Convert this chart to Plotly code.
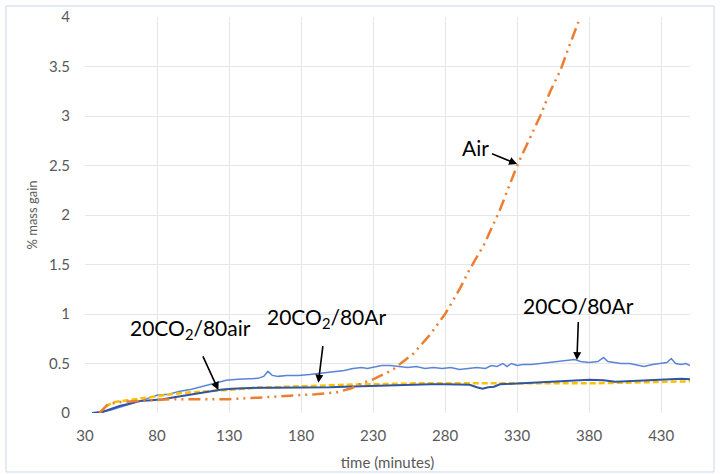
import plotly.graph_objects as go

# ---- data ----
t_co_ar = [35, 42, 48, 55, 62, 68, 74, 80, 88, 96, 104, 112, 120, 128, 136, 144, 150, 154, 157, 160,
           164, 170, 178, 186, 192, 198, 204, 210, 216, 222, 226, 230, 236, 242, 248, 254, 260, 266,
           272, 278, 284, 290, 296, 302, 308, 312, 316, 320, 323, 326, 330, 334, 340, 346, 370, 374,
           380, 386, 390, 393, 397, 402, 408, 414, 418, 424, 430, 434, 437, 440, 444, 447, 450]
v_co_ar = [0, 0.01, 0.03, 0.06, 0.09, 0.12, 0.15, 0.18, 0.19, 0.22, 0.24, 0.27, 0.30, 0.33, 0.34,
           0.35, 0.35, 0.37, 0.42, 0.38, 0.37, 0.38, 0.38, 0.39, 0.40, 0.41, 0.42, 0.43, 0.45, 0.46,
           0.45, 0.46, 0.48, 0.48, 0.47, 0.46, 0.47, 0.45, 0.46, 0.45, 0.46, 0.44, 0.45, 0.46, 0.45,
           0.48, 0.47, 0.50, 0.47, 0.50, 0.48, 0.49, 0.49, 0.50, 0.54, 0.52, 0.51, 0.52, 0.56, 0.52,
           0.51, 0.50, 0.50, 0.48, 0.47, 0.49, 0.50, 0.51, 0.55, 0.50, 0.49, 0.50, 0.48]

t_co2_ar = [35, 42, 48, 54, 60, 68, 76, 84, 92, 100, 108, 116, 124, 132, 140, 150, 160, 170, 180, 190,
            200, 210, 220, 230, 240, 250, 260, 270, 280, 290, 297, 302, 306, 310, 314, 318, 324, 330,
            340, 350, 360, 370, 380, 390, 398, 406, 414, 422, 430, 438, 444, 450]
v_co2_ar = [0, 0.01, 0.04, 0.07, 0.09, 0.12, 0.13, 0.14, 0.16, 0.18, 0.20, 0.22, 0.235, 0.245, 0.25,
            0.255, 0.255, 0.255, 0.255, 0.26, 0.26, 0.265, 0.27, 0.275, 0.28, 0.285, 0.29, 0.29, 0.29,
            0.285, 0.285, 0.26, 0.245, 0.26, 0.265, 0.29, 0.295, 0.30, 0.305, 0.31, 0.325, 0.33, 0.335,
            0.33, 0.315, 0.32, 0.325, 0.33, 0.335, 0.34, 0.345, 0.34]

t_co2_air = [40, 43, 46, 50, 55, 60, 70, 80, 90, 100, 110, 120, 130, 140, 150, 160, 170, 180, 190, 200,
             210, 220, 230, 240, 250, 260, 270, 280, 300, 320, 340, 360, 380, 400, 420, 440, 450]
v_co2_air = [0, 0.04, 0.08, 0.11, 0.12, 0.13, 0.15, 0.175, 0.19, 0.205, 0.215, 0.23, 0.235, 0.245,
             0.255, 0.26, 0.265, 0.27, 0.28, 0.285, 0.29, 0.29, 0.29, 0.295, 0.30, 0.30, 0.30, 0.30,
             0.30, 0.295, 0.295, 0.30, 0.30, 0.305, 0.31, 0.315, 0.32]

t_air = [40, 43, 46, 55, 70, 90, 110, 130, 150, 170, 190, 205, 215, 222, 230, 237, 243, 250, 258, 264,
         270, 280, 290, 297, 307, 318, 330, 338, 346, 353, 360, 366, 372.5]
v_air = [0, 0.05, 0.09, 0.11, 0.125, 0.14, 0.14, 0.14, 0.155, 0.17, 0.19, 0.21, 0.25, 0.30, 0.34, 0.39,
         0.43, 0.51, 0.60, 0.70, 0.80, 1.0, 1.25, 1.45, 1.70, 2.05, 2.50, 2.75, 3.0, 3.25, 3.46, 3.70, 3.95]

x_ticks = [30, 80, 130, 180, 230, 280, 330, 380, 430]
y_ticks = [0, 0.5, 1, 1.5, 2, 2.5, 3, 3.5, 4]

# annotation labels: text, arrow tip (data), text offset from tip (px), start standoff
label_texts = ["Air", "20CO<sub>2</sub>/80air", "20CO<sub>2</sub>/80Ar", "20CO/80Ar"]
label_tip_x = [330.0, 122.6, 192.0, 371.5]
label_tip_y = [2.515, 0.232, 0.306, 0.535]
label_ax = [-42, -28, 8, 2]
label_ay = [-17, -61, -65, -55]
label_gap = [2, 13, 13, 3]

FONT = "Lato"
fig = go.Figure()
fig.add_trace(go.Scatter(x=t_co_ar, y=v_co_ar, mode="lines", name="20CO/80Ar",
                         line=dict(color="#5B84D6", width=1.5)))
fig.add_trace(go.Scatter(x=t_co2_air, y=v_co2_air, mode="lines", name="20CO2/80air",
                         line=dict(color="#FFC000", width=2.5, dash="6px,3px")))
fig.add_trace(go.Scatter(x=t_co2_ar, y=v_co2_ar, mode="lines", name="20CO2/80Ar",
                         line=dict(color="#2F55A4", width=2)))
fig.add_trace(go.Scatter(x=t_air, y=v_air, mode="lines", name="Air",
                         line=dict(color="#ED7D31", width=2.5, dash="12px,5px,2px,5px,2px,5px")))

grid = "#E6E6E6"
fig.update_layout(
    width=720, height=474,
    margin=dict(l=85, r=30, t=17, b=61),
    paper_bgcolor="white", plot_bgcolor="white",
    showlegend=False,
    font=dict(family=FONT, color="#595959", size=15),
    xaxis=dict(range=[30, 450], tickvals=x_ticks, showgrid=True, gridcolor=grid, gridwidth=1,
               zeroline=False, showline=False, ticks="", ticklabelstandoff=12, automargin=False,
               tickfont=dict(size=15, color="#595959"),
               title=dict(text="time (minutes)", font=dict(size=15, color="#595959"), standoff=14)),
    yaxis=dict(range=[0, 4], tickvals=y_ticks, showgrid=True, gridcolor=grid, gridwidth=1,
               zeroline=False, showline=False, ticks="", ticklabelstandoff=14, automargin=False,
               tickfont=dict(size=15, color="#595959"),
               title=dict(text="% mass gain", font=dict(size=13, color="#595959"), standoff=8)),
)

# outer chart border
fig.add_shape(type="rect", xref="paper", yref="paper",
              x0=(6 - 85) / 605, x1=(714 - 85) / 605, y0=(413 - 472) / 396, y1=(413 - 6) / 396,
              line=dict(color="#C9D7EA", width=1), fillcolor="rgba(0,0,0,0)", layer="below")

tf = dict(family=FONT, size=21, color="black")
for txt, x, y, ax, ay, gap in zip(label_texts, label_tip_x, label_tip_y, label_ax, label_ay, label_gap):
    fig.add_annotation(x=x, y=y, text=txt, font=tf, showarrow=True, ax=ax, ay=ay,
                       arrowhead=2, arrowsize=1, arrowwidth=1.6, arrowcolor="black",
                       startstandoff=gap)

fig.write_html("out.html")
